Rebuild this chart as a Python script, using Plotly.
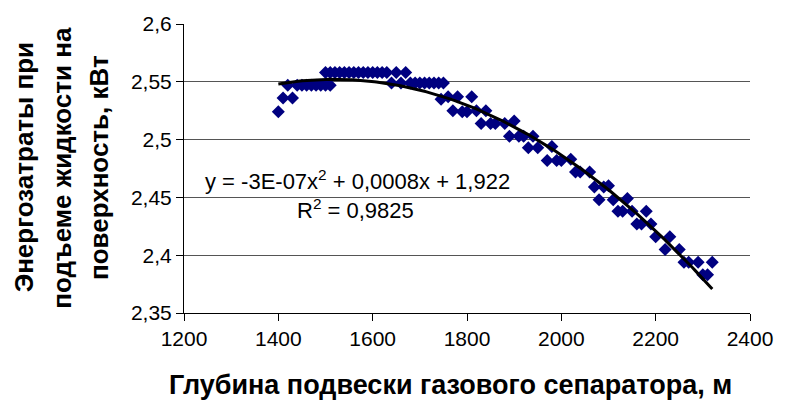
import numpy as np
import plotly.graph_objects as go

depth = [1400, 1410, 1420, 1430, 1440, 1450, 1460, 1470, 1480, 1490, 1500, 1510,
         1500, 1510, 1520, 1530, 1540, 1550, 1560, 1570, 1580, 1590, 1600, 1610, 1620, 1630,
         1640, 1650, 1660, 1670,
         1680, 1690, 1700, 1710, 1720, 1730, 1740, 1750,
         1745, 1760, 1770, 1780, 1790, 1800, 1810, 1820, 1830, 1840, 1850, 1860, 1880,
         1890, 1900, 1910, 1920, 1930, 1940, 1950, 1970, 1980, 1990, 2000, 2020,
         2030, 2040, 2060, 2070, 2080, 2090, 2100, 2110, 2120, 2130, 2140, 2150,
         2160, 2170, 2180, 2190, 2200, 2220, 2230, 2250, 2260, 2270, 2290, 2300, 2310, 2320]
energy = [2.524, 2.536, 2.547, 2.536, 2.547, 2.547, 2.547, 2.547, 2.547, 2.547, 2.547, 2.547,
          2.558, 2.558, 2.558, 2.558, 2.558, 2.558, 2.558, 2.558, 2.558, 2.558, 2.558, 2.558, 2.558, 2.558,
          2.549, 2.558, 2.549, 2.558,
          2.549, 2.549, 2.549, 2.549, 2.549, 2.549, 2.549, 2.549,
          2.535, 2.537, 2.525, 2.537, 2.524, 2.524, 2.537, 2.525, 2.514, 2.525, 2.514, 2.514, 2.514,
          2.503, 2.516, 2.503, 2.503, 2.493, 2.503, 2.493, 2.482, 2.494, 2.482, 2.482, 2.483,
          2.472, 2.472, 2.472, 2.459, 2.448, 2.459, 2.460, 2.448, 2.438, 2.438, 2.449, 2.438,
          2.427, 2.427, 2.438, 2.427, 2.416, 2.405, 2.416, 2.405, 2.394, 2.394, 2.394, 2.383, 2.383, 2.394]

x_ticks = [1200, 1400, 1600, 1800, 2000, 2200, 2400]
y_ticks = [2.35, 2.4, 2.45, 2.5, 2.55, 2.6]
y_tick_labels = ["2,35", "2,4", "2,45", "2,5", "2,55", "2,6"]

eq_text = "y = -3E-07x<sup>2</sup> + 0,0008x + 1,922"
r2_text = "R<sup>2</sup> = 0,9825"
x_title = "Глубина подвески газового сепаратора, м"
y_title_lines = ["Энергозатраты при", "подъеме жидкости на", "поверхность, кВт"]

# polynomial trend line (order 2) fitted to the data
coef = np.polyfit(depth, energy, 2)
xt = np.linspace(min(depth), max(depth), 200)
yt = np.polyval(coef, xt)

FONT = "Liberation Sans, Arial, sans-serif"
L, R, T, B = 184, 25, 19, 99
W, H = 785 - L - R, 412 - T - B


def px(xp, yp):
    return (xp - L) / W, 1 - (yp - T) / H


fig = go.Figure()
fig.add_trace(go.Scatter(x=depth, y=energy, mode="markers",
                         marker=dict(symbol="diamond", size=10, color="#000080",
                                     line=dict(width=0)),
                         showlegend=False))
fig.add_trace(go.Scatter(x=xt, y=yt, mode="lines",
                         line=dict(color="black", width=3), showlegend=False))

fig.update_layout(
    width=785, height=412,
    margin=dict(l=L, r=R, t=T, b=B),
    paper_bgcolor="white", plot_bgcolor="white",
    font=dict(family=FONT, size=21, color="black"),
    xaxis=dict(range=[1200, 2400], tickvals=x_ticks, ticks="outside", ticklen=7,
               tickcolor="black", showline=True, linecolor="black", linewidth=1,
               showgrid=False, zeroline=False, tickfont=dict(family=FONT, size=21)),
    yaxis=dict(range=[2.35, 2.6], tickvals=y_ticks, ticktext=y_tick_labels,
               ticks="outside", ticklen=7, tickcolor="black",
               showline=True, linecolor="black", linewidth=1,
               showgrid=True, gridcolor="#555555", gridwidth=1, zeroline=False,
               tickfont=dict(family=FONT, size=21)),
)

ex, ey = px(361, 178)
rx, ry = px(420, 207)
fig.add_annotation(x=ex, y=ey, xref="paper", yref="paper", text=eq_text, showarrow=False,
                   xanchor="center", yanchor="middle", font=dict(family=FONT, size=22))
fig.add_annotation(x=rx, y=ry, xref="paper", yref="paper", text=r2_text, showarrow=False,
                   xanchor="right", yanchor="middle", font=dict(family=FONT, size=22))

tx, ty = px(455, 386)
fig.add_annotation(x=tx, y=ty, xref="paper", yref="paper", text="<b>" + x_title + "</b>",
                   showarrow=False, xanchor="center", yanchor="middle",
                   font=dict(family=FONT, size=27))

for i, line in enumerate(y_title_lines):
    lx, ly = px(21 + 38 * i, 165)
    fig.add_annotation(x=lx, y=ly, xref="paper", yref="paper", text="<b>" + line + "</b>",
                       showarrow=False, textangle=-90, xanchor="center", yanchor="middle",
                       font=dict(family=FONT, size=26))

fig.write_html("out.html")
